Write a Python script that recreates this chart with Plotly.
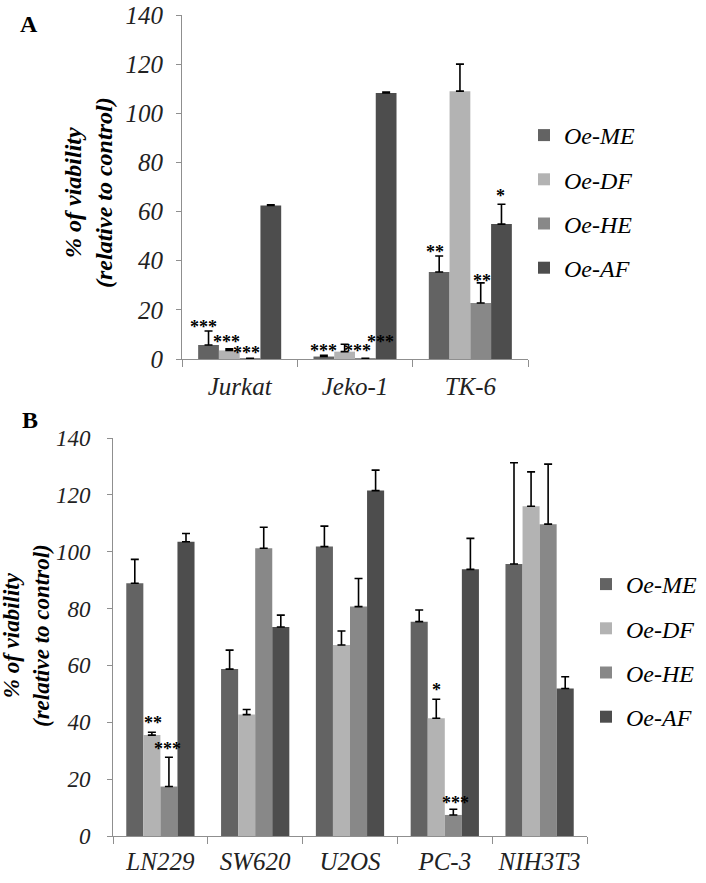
import plotly.graph_objects as go

# ---------------- data ----------------
series_names = ["Oe-ME", "Oe-DF", "Oe-HE", "Oe-AF"]

cats_A = ["Jurkat", "Jeko-1", "TK-6"]
me_A = [5.7, 1.0, 35.4]
me_A_err = [5.7, 0.5, 6.5]
df_A = [3.5, 3.0, 109.0]
df_A_err = [0.7, 3.0, 11.0]
he_A = [0.3, 0.3, 22.8]
he_A_err = [0.0, 0.0, 8.2]
af_A = [62.5, 108.3, 54.9]
af_A_err = [0.3, 0.3, 8.1]

cats_B = ["LN229", "SW620", "U2OS", "PC-3", "NIH3T3"]
me_B = [88.9, 58.7, 101.8, 75.4, 95.7]
me_B_err = [8.4, 6.7, 7.2, 4.1, 35.6]
df_B = [35.5, 42.7, 67.2, 41.4, 116.0]
df_B_err = [1.0, 1.8, 4.9, 6.7, 12.1]
he_B = [17.4, 101.2, 80.7, 7.4, 109.7]
he_B_err = [10.3, 7.4, 9.9, 2.0, 21.1]
af_B = [103.5, 73.5, 121.5, 93.8, 51.9]
af_B_err = [2.9, 4.2, 7.2, 10.9, 4.1]

y_ticks = [0, 20, 40, 60, 80, 100, 120, 140]

# significance marks: (category index, series index, label, dx, dy)
stars_A = [
    (0, 0, "***", -0.045, 3.2),
    (0, 1, "***", -0.025, 4.3),
    (0, 2, "***", -0.03, 3.8),
    (1, 0, "***", 0.0, 3.4),
    (1, 1, "***", 0.114, -1.1),
    (1, 2, "***", 0.129, 8.2),
    (2, 0, "**", -0.04, 3.1),
    (2, 2, "**", 0.007, 2.4),
    (2, 3, "*", -0.008, 5.0),
]
stars_B = [
    (0, 1, "**", 0.017, 4.6),
    (0, 2, "***", -0.01, 4.3),
    (3, 1, "*", 0.006, 4.8),
    (3, 2, "***", 0.026, 3.5),
]

# ---------------- style ----------------
colors = ["#636363", "#b3b3b3", "#888888", "#4d4d4d"]
FONT = "Liberation Serif, Times New Roman, serif"
W, H = 706, 883
AXC = "#8f8f8f"


def fx(px):
    return px / W


def fy(py):
    return 1 - py / H


vals_A = [me_A, df_A, he_A, af_A]
errs_A = [me_A_err, df_A_err, he_A_err, af_A_err]
vals_B = [me_B, df_B, he_B, af_B]
errs_B = [me_B_err, df_B_err, he_B_err, af_B_err]

fig = go.Figure()
for i, name in enumerate(series_names):
    fig.add_trace(go.Bar(
        x=cats_A, y=vals_A[i], name=name, marker_color=colors[i], marker_line_width=0,
        error_y=dict(type="data", symmetric=False, array=errs_A[i],
                     arrayminus=[0] * len(cats_A), color="black", thickness=1.6, width=4),
        xaxis="x", yaxis="y", legend="legend", legendgroup="a" + name,
    ))
for i, name in enumerate(series_names):
    fig.add_trace(go.Bar(
        x=cats_B, y=vals_B[i], name=name, marker_color=colors[i], marker_line_width=0,
        error_y=dict(type="data", symmetric=False, array=errs_B[i],
                     arrayminus=[0] * len(cats_B), color="black", thickness=1.6, width=4),
        xaxis="x2", yaxis="y2", legend="legend2", legendgroup="b" + name,
    ))

offsets = [-0.27, -0.09, 0.09, 0.27]
annotations = []


def add_stars(stars, vals, errs, xref, yref):
    for (c, s, txt, dx, dy) in stars:
        annotations.append(dict(
            x=c + offsets[s] + dx, y=vals[s][c] + errs[s][c] + dy,
            xref=xref, yref=yref, text=txt, showarrow=False,
            xanchor="center", yanchor="middle", yshift=-4,
            font=dict(family=FONT, size=18, color="black", weight="bold"),
        ))


add_stars(stars_A, vals_A, errs_A, "x", "y")
add_stars(stars_B, vals_B, errs_B, "x2", "y2")

# panel letters
annotations.append(dict(x=fx(29), y=fy(24), xref="paper", yref="paper", text="A",
                        showarrow=False, xanchor="center", yanchor="middle",
                        font=dict(family=FONT, size=24, color="black", weight="bold")))
annotations.append(dict(x=fx(30), y=fy(420), xref="paper", yref="paper", text="B",
                        showarrow=False, xanchor="center", yanchor="middle",
                        font=dict(family=FONT, size=24, color="black", weight="bold")))

# y axis titles
ytitle = "% of viability<br>(relative to control)"
annotations.append(dict(x=fx(88), y=fy(193), xref="paper", yref="paper", text=ytitle,
                        showarrow=False, textangle=-90, xanchor="center", yanchor="middle",
                        font=dict(family=FONT, size=24, color="black", weight="bold", style="italic")))
annotations.append(dict(x=fx(26), y=fy(636), xref="paper", yref="paper", text=ytitle,
                        showarrow=False, textangle=-90, xanchor="center", yanchor="middle",
                        font=dict(family=FONT, size=23, color="black", weight="bold", style="italic")))


def tfont(size):
    return dict(family=FONT, size=size, color="#222222", style="italic")


def xaxis_style(domain, anchor, standoff, size):
    return dict(domain=domain, anchor=anchor, type="category", showline=True, linecolor=AXC,
                linewidth=1, ticks="outside", tickson="boundaries", ticklen=7, tickcolor=AXC,
                showgrid=False, zeroline=False, tickfont=tfont(size), ticklabelstandoff=standoff,
                automargin=False)


def yaxis_style(domain, anchor, standoff, size):
    return dict(domain=domain, anchor=anchor, range=[0, 140], tickvals=y_ticks,
                showline=True, linecolor=AXC, linewidth=1, ticks="outside", ticklen=5,
                tickcolor=AXC, showgrid=False, zeroline=False, tickfont=tfont(size),
                ticklabelstandoff=standoff, automargin=False)


legend_font = dict(family=FONT, size=24, color="black", style="italic")

fig.update_layout(
    width=W, height=H, margin=dict(l=0, r=0, t=0, b=0, pad=0, autoexpand=False),
    paper_bgcolor="white", plot_bgcolor="white",
    barmode="group", bargap=0.28, bargroupgap=0,
    xaxis=xaxis_style([fx(182), fx(528)], "y", 5, 25),
    yaxis=yaxis_style([fy(359), fy(15)], "x", 8, 25),
    xaxis2=xaxis_style([fx(113), fx(587)], "y2", 3, 25),
    yaxis2=yaxis_style([fy(836), fy(438)], "x2", 12, 23),
    legend=dict(x=524 / W, y=1 - 113 / H, xanchor="left", yanchor="top",
                font=legend_font, tracegroupgap=10, bgcolor="rgba(0,0,0,0)"),
    legend2=dict(x=586 / W, y=1 - 562 / H, xanchor="left", yanchor="top",
                 font=legend_font, tracegroupgap=10, bgcolor="rgba(0,0,0,0)"),
    annotations=annotations,
    showlegend=True,
)

fig.write_html("out.html", config={"displayModeBar": False},
               post_script="document.body.style.margin='0px';")
